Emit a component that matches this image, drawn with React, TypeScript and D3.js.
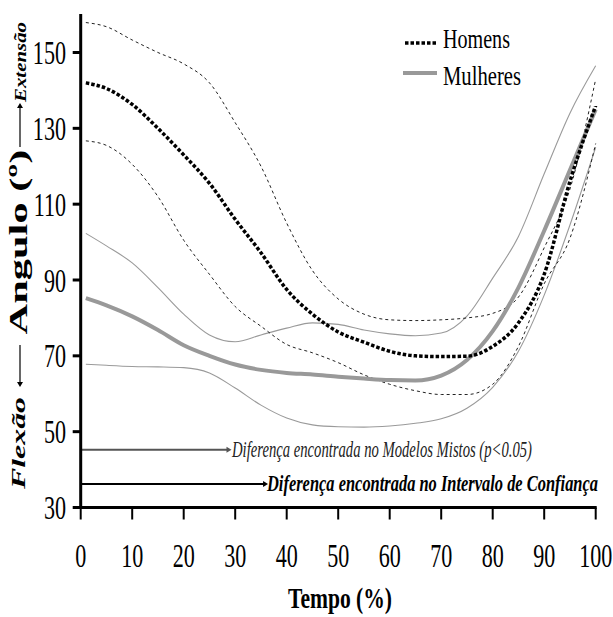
import React from 'react';
import * as d3 from 'd3';

// tempo (%) where the curves were read
const tempo = [1, 5, 10, 15, 20, 25, 30, 35, 40, 45, 50, 55, 60, 65, 70, 75, 80, 85, 90, 95, 100];

const homensMedia = [142, 140.5, 136.3, 130, 123, 115.5, 106, 97.2, 87.5, 81, 76.3, 73.6, 71.2, 70, 69.8, 69.9, 72.5, 78.7, 91.5, 116, 136];
const homensSup = [157.9, 156.8, 153.3, 150, 147, 142, 131.5, 120, 105, 92.5, 85, 81, 79.5, 79.3, 79.5, 80, 81.2, 85.5, 98.5, 114, 143];
const homensInf = [126.7, 125.5, 120.5, 112, 100.5, 91.5, 83, 77.8, 73, 70.8, 68.2, 65, 62.5, 60.8, 59.8, 59.8, 62.5, 72.5, 89, 101, 126];

const mulheresMedia = [85.2, 83.3, 80.4, 76.8, 72.8, 70, 67.7, 66.3, 65.5, 65.1, 64.5, 64, 63.6, 63.5, 64.8, 68.9, 76.5, 88, 103, 119, 135];
const mulheresSup = [102.3, 99, 94.5, 88, 81, 75.5, 73.7, 75.5, 77.3, 78.7, 78.3, 76.8, 75.8, 75.3, 76, 80.5, 90.5, 101.5, 118, 134, 146.5];
const mulheresInf = [67.8, 67.5, 67.2, 67.1, 66.9, 65.5, 61.5, 57, 53.6, 51.8, 51.3, 51.2, 51.5, 52.2, 53.4, 56.2, 61.7, 71.2, 86, 104.5, 125];

const xTicks = [0, 10, 20, 30, 40, 50, 60, 70, 80, 90, 100];
const yTicks = [30, 50, 70, 90, 110, 130, 150];

// annotation lines (angle value, x end in tempo)
const notaModelos = { valor: 45.2, fim: 28.7, texto: 'Diferença encontrada no Modelos Mistos (p<0.05)' };
const notaIntervalo = { valor: 36.2, fim: 35.8, texto: 'Diferença encontrada no Intervalo de Confiança' };

const SX = 0.65; // the figure is squeezed horizontally
const FONT = '"Liberation Serif", "Times New Roman", serif';

function Txt({ x, y, size, bold, italic, anchor, len, rot, fill, children }: any) {
  const tr = `translate(${x},${y}) scale(${SX},1)` + (rot ? ' rotate(-90)' : '');
  return (
    <text
      transform={tr}
      fontFamily={FONT}
      fontSize={size}
      fontWeight={bold ? 'bold' : 'normal'}
      fontStyle={italic ? 'italic' : 'normal'}
      textAnchor={anchor || 'start'}
      fill={fill || '#000'}
      textLength={len ? (rot ? len : len / SX) : undefined}
      lengthAdjust={len ? 'spacingAndGlyphs' : undefined}
    >
      {children}
    </text>
  );
}

export default function App() {
  const x = d3.scaleLinear().domain([0, 100]).range([80.7, 595.7]);
  const y = d3.scaleLinear().domain([30, 150]).range([507.5, 52.5]);

  const line = (vals: number[]) =>
    d3.line<number>()
      .x((_, i) => x(tempo[i]))
      .y(d => y(d))
      .curve(d3.curveMonotoneX)(vals) as string;

  const arrowHead = (px: number, py: number, dir: string, s = 5) => {
    if (dir === 'right') return `M${px},${py} L${px - s},${py - s * 0.6} L${px - s},${py + s * 0.6} Z`;
    if (dir === 'up') return `M${px},${py} L${px - s * 0.6},${py + s} L${px + s * 0.6},${py + s} Z`;
    return `M${px},${py} L${px - s * 0.6},${py - s} L${px + s * 0.6},${py - s} Z`;
  };

  const x0 = x(0);
  const yBase = y(30);

  return (
    <svg width={613} height={617} style={{ position: 'absolute', left: 0, top: 0, background: '#fff' }}>
      {/* women confidence bands */}
      <path d={line(mulheresSup)} fill="none" stroke="#9a9a9a" strokeWidth={1.1} />
      <path d={line(mulheresInf)} fill="none" stroke="#9a9a9a" strokeWidth={1.1} />
      {/* men confidence bands */}
      <path d={line(homensSup)} fill="none" stroke="#222" strokeWidth={1} strokeDasharray="3 3" />
      <path d={line(homensInf)} fill="none" stroke="#222" strokeWidth={1} strokeDasharray="3 3" />
      {/* means */}
      <path d={line(mulheresMedia)} fill="none" stroke="#999" strokeWidth={4} />
      <path d={line(homensMedia)} fill="none" stroke="#000" strokeWidth={3.5} strokeDasharray="3.5 2" />

      {/* annotations */}
      <line x1={x0} x2={x(notaModelos.fim)} y1={y(notaModelos.valor)} y2={y(notaModelos.valor)} stroke="#555" strokeWidth={2} />
      <path d={arrowHead(x(notaModelos.fim) + 3, y(notaModelos.valor), 'right', 5)} fill="#555" />
      <Txt x={232} y={y(notaModelos.valor) + 7.5} size={24} italic len={300} fill="#222">{notaModelos.texto}</Txt>

      <line x1={x0} x2={x(notaIntervalo.fim)} y1={y(notaIntervalo.valor)} y2={y(notaIntervalo.valor)} stroke="#000" strokeWidth={2} />
      <path d={arrowHead(x(notaIntervalo.fim) + 3, y(notaIntervalo.valor), 'right', 5)} fill="#000" />
      <Txt x={267} y={y(notaIntervalo.valor) + 7.5} size={23} bold italic len={331}>{notaIntervalo.texto}</Txt>

      {/* axes */}
      <line x1={x0} x2={x0} y1={14} y2={yBase + 1.5} stroke="#000" strokeWidth={3} />
      <line x1={x0 - 1.5} x2={x(100) + 1} y1={yBase} y2={yBase} stroke="#000" strokeWidth={3} />
      {yTicks.map(t => (
        <g key={'y' + t}>
          <line x1={x0 - 8} x2={x0} y1={y(t)} y2={y(t)} stroke="#000" strokeWidth={3} />
          <Txt x={66} y={y(t) + 11.5} size={34} anchor="end">{t}</Txt>
        </g>
      ))}
      {xTicks.map(t => (
        <g key={'x' + t}>
          <line x1={x(t)} x2={x(t)} y1={yBase} y2={yBase + 12} stroke="#000" strokeWidth={2} />
          <Txt x={x(t)} y={566.5} size={34} anchor="middle">{t}</Txt>
        </g>
      ))}
      <Txt x={340} y={608} size={30} bold anchor="middle" len={104}>Tempo (%)</Txt>

      {/* y label */}
      <Txt x={25} y={443} size={30} bold italic anchor="middle" len={92} rot>Flexão</Txt>
      <line x1={20} x2={20} y1={345} y2={382} stroke="#000" strokeWidth={1.2} />
      <path d={arrowHead(20, 387, 'down', 5)} fill="#000" />
      <Txt x={27} y={242} size={40} bold anchor="middle" len={185} rot>Angulo (º)</Txt>
      <line x1={20} x2={20} y1={147} y2={108} stroke="#000" strokeWidth={1.2} />
      <path d={arrowHead(20, 103, 'up', 5)} fill="#000" />
      <Txt x={26} y={62} size={26} bold italic anchor="middle" len={80} rot>Extensão</Txt>

      {/* legend */}
      <line x1={405} x2={437} y1={43} y2={43} stroke="#000" strokeWidth={3.5} strokeDasharray="3.5 2" />
      <Txt x={443} y={48} size={27} len={67}>Homens</Txt>
      <line x1={403} x2={437} y1={73} y2={73} stroke="#999" strokeWidth={4} />
      <Txt x={443} y={85} size={27} len={78}>Mulheres</Txt>
    </svg>
  );
}
